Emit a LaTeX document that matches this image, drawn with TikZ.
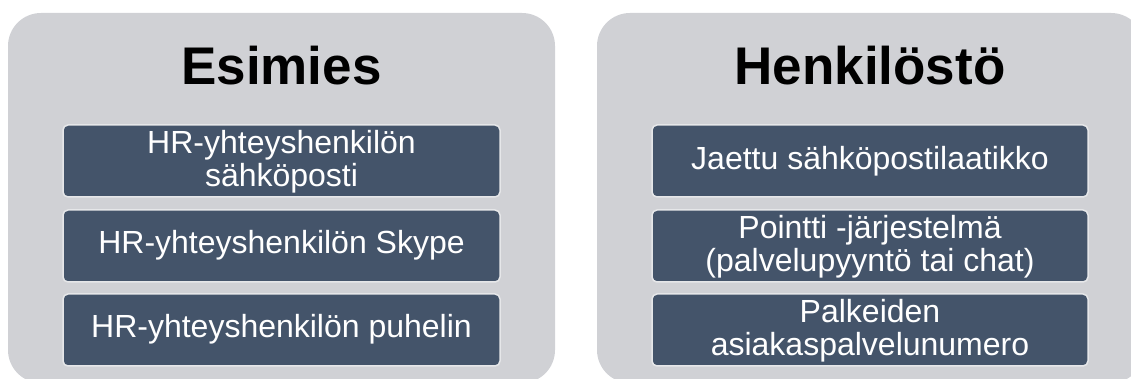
\documentclass[tikz,border=0pt]{standalone}
\usepackage{fontspec}
\setmainfont{Liberation Sans}
\definecolor{panelgrey}{HTML}{D0D1D5}
\definecolor{itemblue}{HTML}{44546A}
\definecolor{itemedge}{HTML}{E6E7E9}
\tikzset{
  panel/.style={fill=panelgrey, draw=none, rounded corners=33pt},
  item/.style={fill=itemblue, draw=itemedge, line width=1.5pt, rounded corners=5pt},
  itemtext/.style={text=white, align=center, font=\fontsize{32}{33}\selectfont, inner sep=0pt},
  title/.style={text=black, font=\fontsize{53}{60}\selectfont\bfseries, inner sep=0pt}
}
\begin{document}
\begin{tikzpicture}[x=1pt,y=1pt]
\useasboundingbox (0,0) rectangle (1131,379);
\clip (0,0) rectangle (1131,379);

% left column
\draw[panel] (8,366) rectangle (555,-4);
\node[title] (t1) at (281.5,313) {Esimies};
\draw[item] (63,254) rectangle (500,182);
\node[itemtext] (a1) at (281.5,217) {HR-yhteyshenkilön\\sähköposti};
\draw[item] (63,169) rectangle (500,97);
\node[itemtext] (a2) at (281.5,134) {HR-yhteyshenkilön Skype};
\draw[item] (63,85) rectangle (500,13);
\node[itemtext] (a3) at (281.5,50) {HR-yhteyshenkilön puhelin};

% right column
\draw[panel] (597,366) rectangle (1144,-4);
\node[title] (t2) at (870,313) {Henkilöstö};
\draw[item] (652,254) rectangle (1088,182);
\node[itemtext] (b1) at (870,218) {Jaettu sähköpostilaatikko};
\draw[item] (652,169) rectangle (1088,97);
\node[itemtext] (b2) at (870,132) {Pointti -järjestelmä\\(palvelupyyntö tai chat)};
\draw[item] (652,85) rectangle (1088,13);
\node[itemtext] (b3) at (870,48) {Palkeiden\\asiakaspalvelunumero};
\end{tikzpicture}
\end{document}
